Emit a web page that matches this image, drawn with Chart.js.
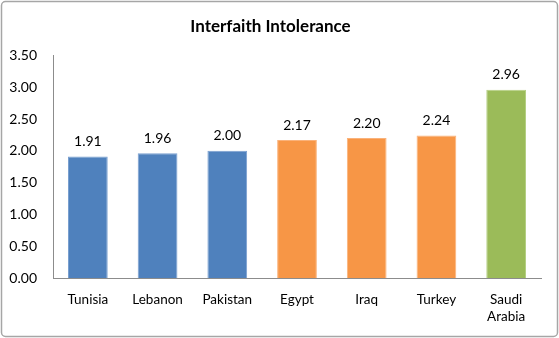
<!DOCTYPE html>
<html>
<head>
<meta charset="utf-8">
<script src="https://cdn.jsdelivr.net/npm/chart.js@4"></script>
<style>
  html, body { margin: 0; padding: 0; background: #fff; }
  #wrap { width: 559px; height: 338px; position: relative; }
</style>
</head>
<body>
<div id="wrap"><canvas id="intolerance"></canvas></div>
<script>
// countries and scores
var countries = ['Tunisia', 'Lebanon', 'Pakistan', 'Egypt', 'Iraq', 'Turkey', ['Saudi', 'Arabia']];
var scores = [1.91, 1.96, 2.00, 2.17, 2.20, 2.24, 2.96];
var barColors = ['#4F81BD', '#4F81BD', '#4F81BD', '#F79646', '#F79646', '#F79646', '#9BBB59'];
var edgeColors = ['#7A9FD0', '#7A9FD0', '#7A9FD0', '#FAB27A', '#FAB27A', '#FAB27A', '#B5CF83'];
var yTicks = [0, 0.5, 1, 1.5, 2, 2.5, 3, 3.5];

var fontFam = 'Lato, "Open Sans", sans-serif';

// rounded frame round the whole chart
var framePlugin = {
    id: 'frame',
    beforeDraw: function (chart) {
        var ctx = chart.ctx;
        ctx.save();
        ctx.strokeStyle = '#a6a6a6';
        ctx.lineWidth = 1.5;
        ctx.beginPath();
        ctx.roundRect(1.5, 1.5, chart.width - 3, chart.height - 3, 4);
        ctx.stroke();
        ctx.restore();
    }
};

// value labels over the bars
var valuePlugin = {
    id: 'values',
    afterDatasetsDraw: function (chart) {
        var ctx = chart.ctx;
        var meta = chart.getDatasetMeta(0);
        ctx.save();
        ctx.fillStyle = '#000';
        ctx.font = '14px ' + fontFam;
        ctx.textAlign = 'center';
        ctx.textBaseline = 'bottom';
        meta.data.forEach(function (bar, i) {
            ctx.fillText(scores[i].toFixed(2), bar.x, bar.y - 8);
        });
        ctx.restore();
    }
};

var ctxl = document.getElementById('intolerance');
var myBarChart = new Chart(ctxl, {
    type: 'bar',
    data: {
        labels: countries,
        datasets: [{
            data: scores,
            backgroundColor: barColors,
            borderColor: edgeColors,
            borderWidth: 1,
            categoryPercentage: 1,
            barPercentage: 0.57
        }]
    },
    options: {
        responsive: true,
        maintainAspectRatio: false,
        animation: false,
        layout: { padding: { left: 0, right: 18, top: 0, bottom: 0 } },
        plugins: {
            legend: { display: false },
            tooltip: { enabled: false },
            title: {
                display: true,
                text: 'Interfaith Intolerance',
                color: '#000',
                font: { family: fontFam, size: 17, weight: 'bold' },
                padding: { top: 16, bottom: 19 }
            }
        },
        scales: {
            x: {
                grid: { display: false },
                border: { display: true, color: '#8c8c8c', width: 1 },
                ticks: {
                    color: '#000',
                    font: { family: fontFam, size: 13.5 },
                    padding: 6,
                    maxRotation: 0,
                    autoSkip: false
                },
                afterFit: function (scale) { scale.height = 60; }
            },
            y: {
                min: 0,
                max: 3.5,
                afterBuildTicks: function (scale) {
                    scale.ticks = yTicks.map(function (v) { return { value: v }; });
                },
                grid: { display: false },
                border: { display: true, color: '#8c8c8c', width: 1 },
                ticks: {
                    color: '#000',
                    font: { family: fontFam, size: 14 },
                    padding: 8,
                    callback: function (v) { return Number(v).toFixed(2); }
                },
                afterFit: function (scale) { scale.width = 53; }
            }
        }
    },
    plugins: [framePlugin, valuePlugin]
});
</script>
</body>
</html>
